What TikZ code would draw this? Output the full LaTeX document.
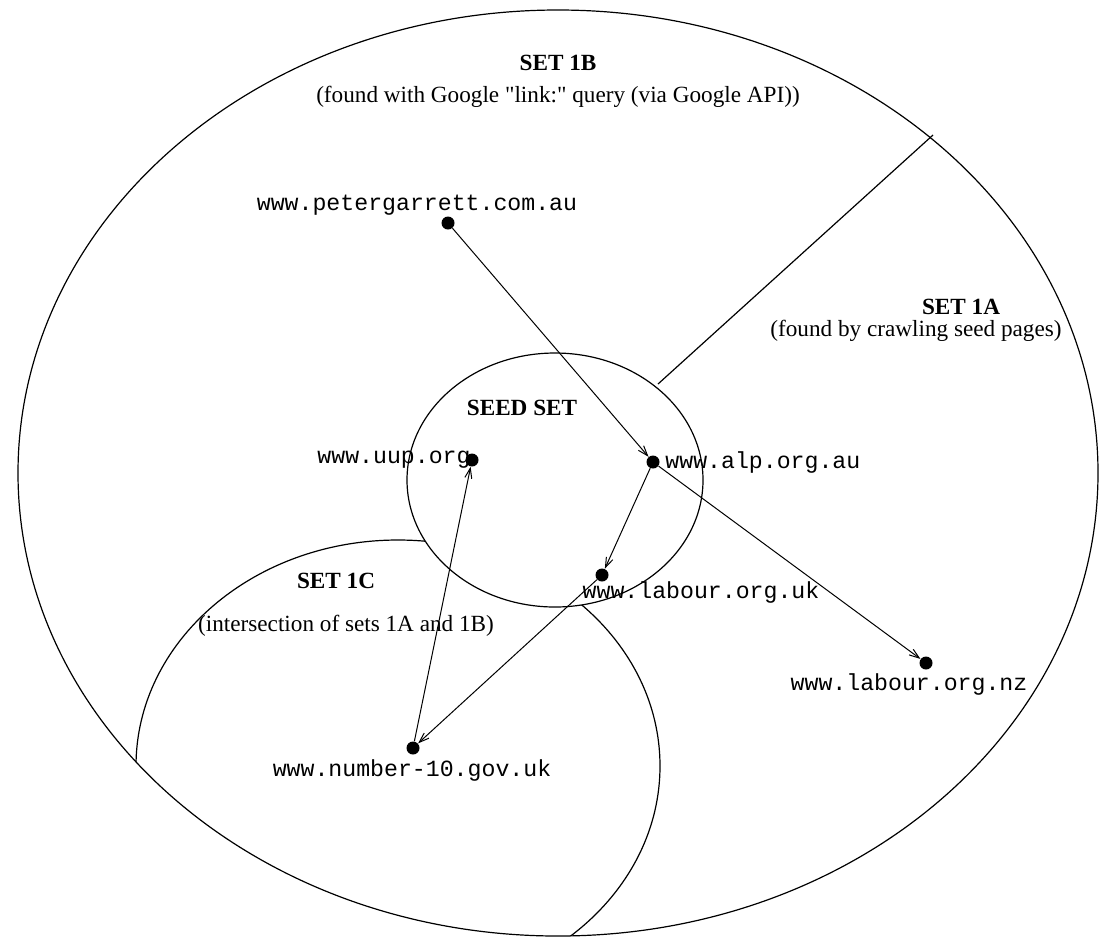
\documentclass[tikz,border=0pt]{standalone}
\usepackage{fontspec}
\setmainfont{Liberation Serif}
\setmonofont{Liberation Mono}
\newfontfamily\notefont{Liberation Serif}
\usetikzlibrary{arrows.meta}
\begin{document}
\begin{tikzpicture}[x=0.5pt,y=-0.5pt,
  outline/.style={line width=0.6pt},
  dot/.style={circle,fill=black,inner sep=0pt,minimum size=6.5pt},
  site/.style={font=\fontsize{11.6}{13}\selectfont\ttfamily,inner sep=0pt},
  settitle/.style={font=\fontsize{11.6}{13}\selectfont\bfseries,inner sep=0pt},
  note/.style={font=\fontsize{11.6}{13}\selectfont\notefont,inner sep=0pt},
  arr/.style={line width=0.5pt,-{Straight Barb[length=5pt,width=3.5pt]}}]
\useasboundingbox (0,0) rectangle (1101,939);
% set 1C, clipped to the outer ellipse
\begin{scope}
  \clip (558,473) ellipse [x radius=270pt, y radius=231.5pt];
  \draw[outline] (398,766) ellipse [x radius=131pt, y radius=113pt];
\end{scope}
% seed set covers the part of 1C inside it
\fill[white] (555,480) ellipse [x radius=74pt, y radius=63.5pt];
\draw[outline] (555,480) ellipse [x radius=74pt, y radius=63.5pt];
% outer ellipse
\draw[outline] (558,473) ellipse [x radius=270pt, y radius=231.5pt];
% boundary between 1A and 1B
\coordinate (bA) at (933,135);
\coordinate (bB) at (658,384);
\draw[outline] (bA) -- (bB);
% titles
\node[settitle] (t1b) at (558,63) {SET 1B};
\node[note] (n1b) at (558,97) {(found with Google "link:" query (via Google API))};
\node[settitle] (t1a) at (961,307) {SET 1A};
\node[note] (n1a) at (916,331) {(found by crawling seed pages)};
\node[settitle] (tseed) at (522,408) {SEED SET};
\node[settitle] (t1c) at (336,581) {SET 1C};
\node[note] (n1c) at (346,626) {(intersection of sets 1A and 1B)};
% sites
\node[dot] (peter) at (448,223) {};
\node[site] (lpeter) at (417,205) {www.petergarrett.com.au};
\node[dot] (uup) at (472,460) {};
\node[site] (luup) at (394,460) {www.uup.org};
\node[dot] (alp) at (653,462) {};
\node[site,anchor=west] (lalp) at (665,462) {www.alp.org.au};
\node[dot] (uk) at (602,575) {};
\node[site] (luk) at (701,592) {www.labour.org.uk};
\node[dot] (nz) at (926,663) {};
\node[site] (lnz) at (909,684) {www.labour.org.nz};
\node[dot] (ten) at (413,748) {};
\node[site] (lten) at (412,770) {www.number-10.gov.uk};
% links
\draw[arr] (peter) -- (alp);
\draw[arr] (alp) -- (nz);
\draw[arr] (alp) -- (uk);
\draw[arr] (uk) -- (ten);
\draw[arr] (ten) -- (uup);
\end{tikzpicture}
\end{document}
